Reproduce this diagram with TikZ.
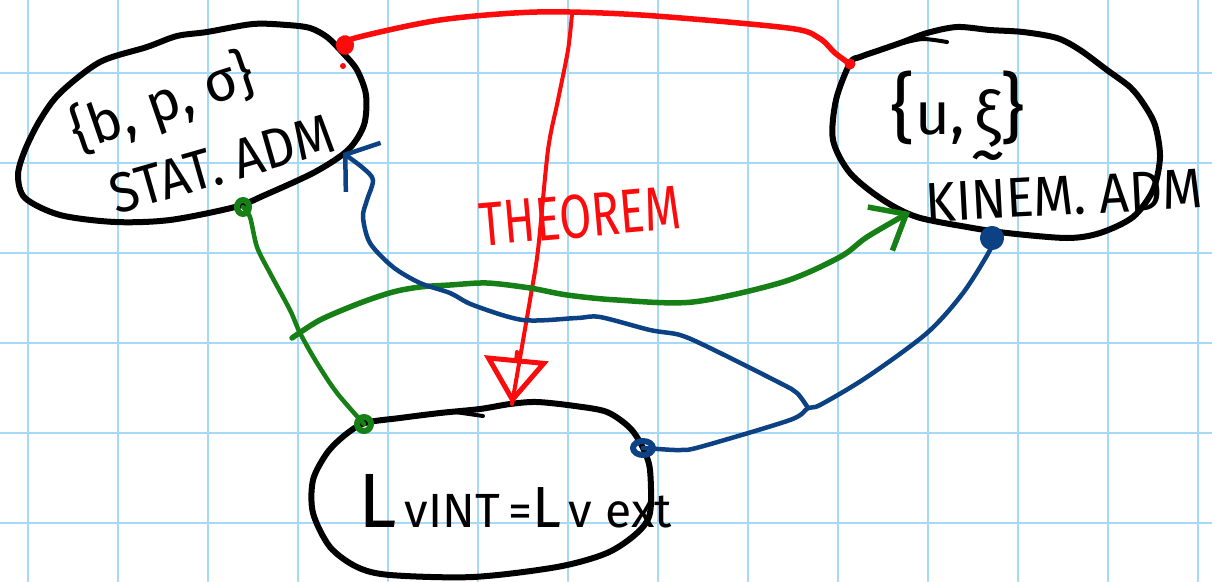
\documentclass[tikz,border=0pt]{standalone}
\usepackage{fontspec}
\setmainfont{Fira Sans}
\usetikzlibrary{arrows.meta}

\definecolor{gridblue}{RGB}{165,217,246}
\definecolor{penred}{RGB}{250,12,12}
\definecolor{pengreen}{RGB}{22,128,22}
\definecolor{penblue}{RGB}{12,66,132}

\newcommand\fsz[1]{\fontsize{#1}{#1}\selectfont}

\begin{document}
\begin{tikzpicture}[x=1pt, y=-1pt, line cap=round, line join=round,
  gridline/.style={draw=gridblue, line width=2pt},
  outline/.style={draw=black, line width=6pt},
  redpen/.style={draw=penred, line width=5.5pt},
  redthin/.style={draw=penred, line width=4pt},
  greenpen/.style={draw=pengreen, line width=5.5pt},
  greenthin/.style={draw=pengreen, line width=4.5pt},
  bluepen/.style={draw=penblue, line width=4.5pt},
  ink/.style={inner sep=0pt, text=black},
]
\useasboundingbox (0,0) rectangle (1212,581);
\fill[white] (0,0) rectangle (1212,581);

% squared paper
\foreach \gx in {28,118,...,1198} \draw[gridline] (\gx,0) -- (\gx,581);
\foreach \gy in {73,163,...,523} \draw[gridline] (0,\gy) -- (1212,\gy);

% statically admissible set
\draw[outline] plot[smooth cycle] coordinates {
  (18,175) (25,150) (40,120) (60,93) (100,62) (147,47) (177,36) (207,32)
  (253,24) (287,25) (310,28) (327,37) (343,53) (357,70) (366,95) (364,125)
  (348,150) (315,172) (265,195) (235,207) (170,220) (115,222) (60,215)
  (25,198)};
% kinematically admissible set
\draw[outline] plot[smooth cycle] coordinates {
  (850,63) (836,100) (833,140) (850,173) (883,200) (917,217) (967,227)
  (1007,233) (1067,238) (1100,233) (1133,217) (1153,190) (1160,157)
  (1155,125) (1143,103) (1130,87) (1107,70) (1080,50) (1057,38) (1023,32)
  (990,30) (957,27) (927,33) (903,42) (880,50) (860,57)};
\draw[outline, line width=4pt] plot[smooth] coordinates {(903,43) (923,39) (947,42)};
% virtual work equality
\draw[outline] plot[smooth cycle] coordinates {
  (365,423) (400,418) (440,413) (480,409) (510,404) (537,402) (575,406)
  (607,412) (630,428) (643,448) (650,470) (650,513) (637,533) (607,553)
  (557,567) (473,577) (390,575) (357,567) (330,547) (313,513) (313,480)
  (327,453) (345,435)};
\draw[outline, line width=4pt] (455,412) -- (483,416);

% attachment points
\coordinate (sRed)   at (345,45);
\coordinate (sGreen) at (243,207);
\coordinate (sBlue)  at (343,153);
\coordinate (kRed)   at (850,64);
\coordinate (kGreen) at (910,212);
\coordinate (kBlue)  at (992,238);
\coordinate (lGreen) at (364,424);
\coordinate (lBlue)  at (643,448);
\coordinate (lTop)   at (512,404);
\coordinate (redFork)   at (572,14);
\coordinate (blueFork)  at (808,408);
\coordinate (greenTail) at (292,338);

% labels
\node[ink, rotate=19] (sSet) at (163,104) {\fsz{56}\{b, p, σ\}};
\node[ink, rotate=16] (sName) at (222,164) {\scalebox{0.92}[1]{\fsz{56}STAT. ADM}};
\node[ink, anchor=base] (kSet) at (958,134) {\fsz{76}\{\fsz{60}u,\,\ooalign{ξ\cr\hidewidth\raisebox{-44pt}{\fsz{72}\textasciitilde}\hidewidth\cr}\fsz{76}\}};
\node[ink, rotate=3] (kName) at (1064,196) {\scalebox{0.92}[1]{\fsz{56}KINEM. ADM}};
\node[ink, anchor=base] (lEq) at (515,527) {\fsz{77}L\fsz{48}\,vINT\,=\fsz{58}L\fsz{48}\,v ext};
\node[ink, text=penred, rotate=5] (thm) at (580,216) {\scalebox{0.75}[1]{\fsz{62}THEOREM}};

% red: duality link between the two sets, and the theorem arrow
\draw[redpen] plot[smooth] coordinates {(sRed) (355,38) (440,20) (537,12)
  (641,15) (788,28) (819,38) (835,53) (kRed)};
\draw[redthin] plot[smooth] coordinates {(redFork) (568,50) (558,100)
  (548,150) (538,250) (530,300) (lTop)};
\draw[redthin, -{Triangle[open, length=46pt, width=64pt, line width=5pt]}]
  (517,352) -- (lTop);
\draw[redpen, line width=8pt] (sRed) ellipse[x radius=5, y radius=6];
\fill[penred] (343,66) circle[radius=3];
\fill[penred] (kRed) circle[radius=5.5];

% green
\draw[greenthin] plot[smooth] coordinates {(sGreen) (250,217) (257,247)
  (270,273) (290,310) (300,333) (317,363) (337,393) (lGreen)};
\draw[greenpen, line width=6pt] (sGreen) ellipse[x radius=6, y radius=7];
\draw[greenpen, line width=6pt] (lGreen) circle[radius=7];
\draw[greenpen, -{Straight Barb[length=30pt, width=50pt]}] plot[smooth] coordinates {
  (greenTail) (320,320) (360,303) (393,292) (420,287) (450,285) (487,283)
  (530,288) (567,295) (617,300) (693,302) (783,282) (840,257) (867,237) (kGreen)};

% blue
\draw[bluepen] plot[smooth] coordinates {(lBlue) (658,449) (680,450)
  (700,447) (790,420) (blueFork) (820,405) (867,377) (927,333) (963,293)
  (990,250) (kBlue)};
\draw[bluepen, -{Straight Barb[length=22pt, width=60pt]}] plot[smooth] coordinates {
  (blueFork) (797,393) (780,383) (710,348) (680,335) (650,330) (600,317)
  (577,318) (523,320) (473,305) (450,293) (420,283) (393,267) (370,243)
  (363,217) (367,200) (373,180) (363,168) (sBlue)};
\draw[bluepen, line width=10pt] (kBlue) circle[radius=7];
\draw[bluepen, line width=6pt] (lBlue) ellipse[x radius=10, y radius=7];
\end{tikzpicture}
\end{document}
